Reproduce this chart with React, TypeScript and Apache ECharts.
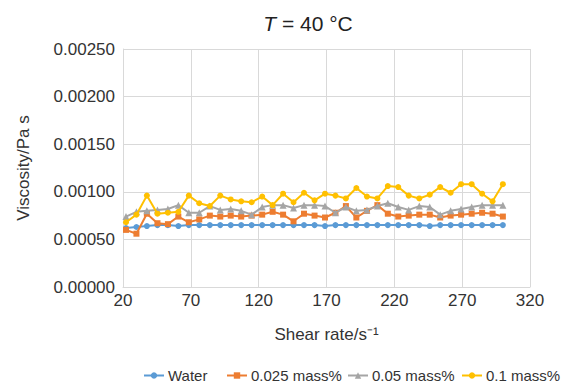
import React, { useEffect, useRef } from "react";
import * as echarts from "echarts";

const shearRate = [22.2, 29.9, 37.6, 45.4, 53.1, 60.8, 68.5, 76.2, 84, 91.7, 99.4, 107.1, 114.8, 122.6, 130.3, 138, 145.7, 153.4, 161.2, 168.9, 176.6, 184.3, 192, 199.8, 207.5, 215.2, 222.9, 230.6, 238.4, 246.1, 253.8, 261.5, 269.2, 277, 284.7, 292.4, 300];

const water = [0.00062, 0.00063, 0.00064, 0.00065, 0.00065, 0.00064, 0.00065, 0.00065, 0.00065, 0.00065, 0.00065, 0.00065, 0.00065, 0.00065, 0.00065, 0.00065, 0.00065, 0.00065, 0.00065, 0.00064, 0.00065, 0.00065, 0.00065, 0.00065, 0.00065, 0.00065, 0.00065, 0.00065, 0.00065, 0.00064, 0.00065, 0.00065, 0.00065, 0.00065, 0.00065, 0.00065, 0.00065];

const mass0025 = [0.0006, 0.00056, 0.00077, 0.00067, 0.00066, 0.00074, 0.00068, 0.00071, 0.00075, 0.00074, 0.00075, 0.00074, 0.00075, 0.00076, 0.00079, 0.00076, 0.00069, 0.00077, 0.00075, 0.00073, 0.00078, 0.00085, 0.00073, 0.0008, 0.00086, 0.00077, 0.00074, 0.00075, 0.00076, 0.00076, 0.00073, 0.00075, 0.00076, 0.00077, 0.00078, 0.00077, 0.00074];

const mass005 = [0.00074, 0.00079, 0.0008, 0.00081, 0.00082, 0.00086, 0.00078, 0.00078, 0.00085, 0.00081, 0.00082, 0.0008, 0.00076, 0.00084, 0.00086, 0.00086, 0.00083, 0.00086, 0.00086, 0.00085, 0.00078, 0.00084, 0.0008, 0.00081, 0.00085, 0.00088, 0.00084, 0.00081, 0.00085, 0.00084, 0.00076, 0.0008, 0.00082, 0.00084, 0.00086, 0.00086, 0.00086];

const mass01 = [0.00068, 0.00076, 0.00096, 0.00077, 0.00078, 0.00079, 0.00096, 0.00088, 0.00085, 0.00096, 0.00092, 0.0009, 0.00089, 0.00095, 0.00086, 0.00098, 0.00089, 0.00099, 0.00091, 0.00098, 0.00096, 0.00093, 0.00104, 0.00095, 0.00093, 0.00106, 0.00105, 0.00096, 0.00093, 0.00097, 0.00105, 0.00099, 0.00108, 0.00108, 0.00098, 0.0009, 0.00108];

const seriesNames = ["Water", "0.025 mass%", "0.05 mass%", "0.1 mass%"];
const seriesColors = ["#5B9BD5", "#ED7D31", "#A5A5A5", "#FFC000"];
const seriesSymbols = ["circle", "rect", "triangle", "circle"];
const legendLefts = [143, 226, 347, 461];

const FONT = "'Liberation Sans', Arial, sans-serif";

export default function App() {
  const ref = useRef<HTMLDivElement>(null);
  useEffect(() => {
    if (!ref.current) return;
    document.body.style.margin = "0";
    const chart = echarts.init(ref.current, undefined, { renderer: "svg" });
    const all = [water, mass0025, mass005, mass01];
    chart.setOption({
      animation: false,
      backgroundColor: "#ffffff",
      textStyle: { fontFamily: FONT },
      title: {
        text: "{it|T} = 40 °C",
        left: 303,
        top: 8,
        textAlign: "center",
        textStyle: {
          fontFamily: FONT,
          fontSize: 21,
          fontWeight: "normal",
          color: "#222",
          rich: {
            it: { fontStyle: "italic", fontSize: 21, fontFamily: FONT, color: "#222" },
          },
        },
      },
      legend: seriesNames.map((name, k) => ({
        left: legendLefts[k],
        top: 368,
        itemWidth: 20,
        itemHeight: 8,
        itemGap: 5,
        padding: 0,
        textStyle: { fontFamily: FONT, fontSize: 15, color: "#333", padding: [0, 0, 0, -1] },
        data: [name],
      })),
      grid: { left: 123, right: 39, top: 49, bottom: 103, containLabel: false },
      xAxis: {
        type: "value",
        min: 20,
        max: 320,
        interval: 50,
        name: "Shear rate/s⁻¹",
        nameLocation: "middle",
        nameGap: 39,
        nameTextStyle: { fontFamily: FONT, fontSize: 17, color: "#333" },
        axisLine: { show: true, lineStyle: { color: "#D9D9D9", width: 1 } },
        axisTick: { show: false },
        axisLabel: { fontFamily: FONT, fontSize: 17, color: "#333", margin: 5 },
        splitLine: { show: true, lineStyle: { color: "#D9D9D9", width: 1 } },
      },
      yAxis: {
        type: "value",
        min: 0,
        max: 0.0025,
        interval: 0.0005,
        name: "Viscosity/Pa s",
        nameLocation: "middle",
        nameGap: 91,
        nameRotate: 90,
        nameTextStyle: { fontFamily: FONT, fontSize: 17, color: "#333" },
        axisLine: { show: true, lineStyle: { color: "#D9D9D9", width: 1 } },
        axisTick: { show: false },
        axisLabel: {
          fontFamily: FONT,
          fontSize: 17,
          color: "#333",
          margin: 8,
          formatter: (v: number) => v.toFixed(5),
        },
        splitLine: { show: true, lineStyle: { color: "#D9D9D9", width: 1 } },
      },
      series: all.map((vals, k) => ({
        name: seriesNames[k],
        type: "line",
        data: vals.map((v, i) => [shearRate[i], v]),
        symbol: seriesSymbols[k],
        symbolSize: k === 2 ? 7 : 6,
        showSymbol: true,
        lineStyle: { color: seriesColors[k], width: 2 },
        itemStyle: { color: seriesColors[k] },
        z: 2 + k,
      })),
    });
    return () => chart.dispose();
  }, []);
  return <div ref={ref} style={{ width: 569, height: 390 }} />;
}
